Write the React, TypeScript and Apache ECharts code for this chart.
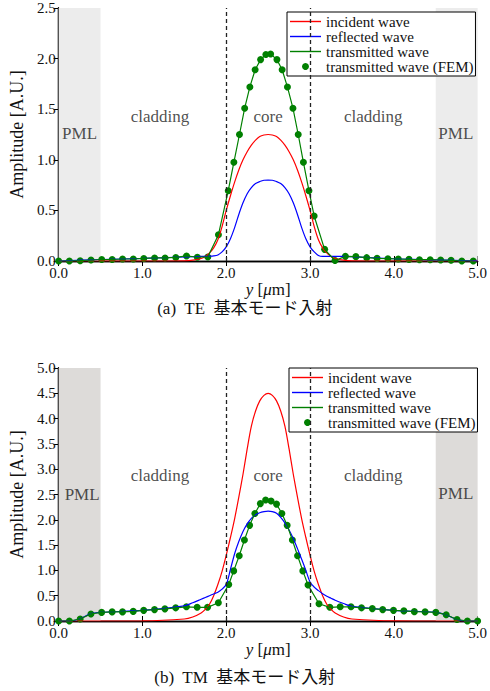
import React, { useEffect, useRef } from "react";
import * as echarts from "echarts";

const FONT = "Liberation Serif";
const CAPTION_FONT = "Liberation Serif, Noto Sans CJK JP";

// ---------- (a) TE ----------
const teCurveX = [0, 0.5, 1.0, 1.5, 1.6, 1.7, 1.75, 1.8, 1.85, 1.9, 1.95, 2.0, 2.05, 2.1, 2.15, 2.2, 2.25, 2.3, 2.35, 2.4, 2.45, 2.5, 2.55, 2.6, 2.65, 2.7, 2.75, 2.8, 2.85, 2.9, 2.95, 3.0, 3.05, 3.1, 3.15, 3.2, 3.25, 3.3, 3.4, 3.5, 4.0, 4.5, 5.0];
const teIncident = [0, 0, 0, 0.002, 0.008, 0.025, 0.045, 0.08, 0.13, 0.21, 0.34, 0.5, 0.645, 0.78, 0.9, 1.0, 1.08, 1.145, 1.195, 1.23, 1.245, 1.25, 1.245, 1.23, 1.195, 1.145, 1.08, 1.0, 0.9, 0.78, 0.645, 0.5, 0.34, 0.21, 0.13, 0.08, 0.045, 0.025, 0.008, 0.002, 0, 0, 0];
const teReflected = [0, 0.015, 0.025, 0.04, 0.042, 0.045, 0.046, 0.047, 0.05, 0.06, 0.09, 0.14, 0.22, 0.33, 0.46, 0.575, 0.665, 0.725, 0.765, 0.785, 0.798, 0.8, 0.798, 0.785, 0.765, 0.725, 0.665, 0.575, 0.46, 0.33, 0.22, 0.14, 0.09, 0.055, 0.045, 0.045, 0.045, 0.045, 0.046, 0.044, 0.022, 0.011, 0];
const teFemX = [0, 0.128, 0.257, 0.386, 0.514, 0.639, 0.763, 0.891, 1.016, 1.145, 1.27, 1.398, 1.526, 1.655, 1.78, 1.907, 2.024, 2.091, 2.158, 2.22, 2.282, 2.345, 2.41, 2.473, 2.53, 2.605, 2.667, 2.73, 2.796, 2.859, 2.921, 2.987, 3.049, 3.174, 3.298, 3.422, 3.547, 3.676, 3.8, 3.929, 4.053, 4.181, 4.306, 4.434, 4.559, 4.683, 4.811, 4.948];
const teFemY = [0, 0, 0.003, 0.01, 0.015, 0.015, 0.02, 0.02, 0.025, 0.03, 0.03, 0.035, 0.05, 0.037, 0.04, 0.26, 0.695, 0.975, 1.25, 1.51, 1.72, 1.89, 1.99, 2.04, 2.045, 1.99, 1.89, 1.72, 1.51, 1.25, 0.975, 0.695, 0.445, 0.115, 0.005, 0.046, 0.043, 0.033, 0.026, 0.023, 0.02, 0.016, 0.013, 0.013, 0.01, 0.007, 0, 0];
const teRegionLabels: [number, number, string][] = [
  [0.25, 1.26, "PML"],
  [1.21, 1.43, "cladding"],
  [2.5, 1.43, "core"],
  [3.755, 1.43, "cladding"],
  [4.74, 1.26, "PML"],
];

// ---------- (b) TM ----------
const tmCurveX = [0, 0.125, 0.25, 0.375, 0.5, 1.0, 1.5, 1.6, 1.7, 1.75, 1.8, 1.85, 1.9, 1.95, 2.0, 2.05, 2.1, 2.15, 2.2, 2.25, 2.3, 2.35, 2.4, 2.45, 2.5, 2.55, 2.6, 2.65, 2.7, 2.75, 2.8, 2.85, 2.9, 2.95, 3.0, 3.05, 3.1, 3.15, 3.2, 3.25, 3.3, 3.4, 3.5, 4.0, 4.5, 4.625, 4.75, 4.875, 5.0];
const tmIncident = [0, 0, 0, 0, 0, 0.002, 0.04, 0.08, 0.16, 0.23, 0.33, 0.5, 0.72, 0.98, 1.3, 1.65, 2.02, 2.45, 2.9, 3.4, 3.85, 4.15, 4.35, 4.46, 4.5, 4.46, 4.35, 4.15, 3.85, 3.4, 2.9, 2.45, 2.02, 1.65, 1.3, 0.98, 0.72, 0.5, 0.33, 0.23, 0.16, 0.08, 0.04, 0.002, 0, 0, 0, 0, 0];
const tmReflected = [0, 0, 0.04, 0.14, 0.17, 0.21, 0.3, 0.36, 0.43, 0.465, 0.5, 0.535, 0.57, 0.63, 0.72, 1.02, 1.33, 1.57, 1.77, 1.92, 2.03, 2.1, 2.14, 2.16, 2.17, 2.16, 2.13, 2.05, 1.94, 1.8, 1.63, 1.43, 1.22, 1.0, 0.77, 0.67, 0.6, 0.54, 0.49, 0.45, 0.41, 0.345, 0.29, 0.21, 0.17, 0.12, 0.03, 0, 0];
const tmFemX = [0, 0.128, 0.257, 0.385, 0.513, 0.638, 0.762, 0.89, 1.015, 1.144, 1.268, 1.397, 1.525, 1.653, 1.777, 1.906, 2.03, 2.089, 2.155, 2.217, 2.279, 2.342, 2.407, 2.47, 2.535, 2.6, 2.664, 2.727, 2.789, 2.851, 2.914, 2.976, 3.107, 3.236, 3.36, 3.489, 3.614, 3.743, 3.867, 3.996, 4.12, 4.245, 4.373, 4.501, 4.625, 4.754, 4.878, 5.0];
const tmFemY = [0, 0, 0.04, 0.14, 0.17, 0.18, 0.18, 0.19, 0.21, 0.225, 0.24, 0.26, 0.28, 0.27, 0.27, 0.36, 0.72, 0.99, 1.29, 1.6, 1.89, 2.125, 2.32, 2.39, 2.37, 2.31, 2.125, 1.89, 1.6, 1.29, 0.99, 0.71, 0.34, 0.27, 0.28, 0.28, 0.26, 0.245, 0.225, 0.21, 0.2, 0.185, 0.18, 0.17, 0.125, 0.03, 0, 0];
const tmRegionLabels: [number, number, string][] = [
  [0.28, 2.5, "PML"],
  [1.21, 2.88, "cladding"],
  [2.5, 2.88, "core"],
  [3.755, 2.88, "cladding"],
  [4.74, 2.52, "PML"],
];

const pmlRanges: [number, number][] = [[0, 0.5], [4.5, 5.0]];
const coreEdges = [2.0, 3.0];
const names = ["incident wave", "reflected wave", "transmitted wave", "transmitted wave (FEM)"];
const captions = ["(a)  TE  基本モード入射", "(b)  TM  基本モード入射"];

const zip = (xs: number[], ys: number[]) => xs.map((x, i) => [x, ys[i]]);

function axesFor(grid: number, yMax: number) {
  const common = {
    gridIndex: grid,
    splitLine: { show: false },
    axisLine: { show: true, lineStyle: { color: "#000", width: 1.3 } },
    axisTick: { show: true, inside: true, length: 5, lineStyle: { color: "#000", width: 1 } },
  };
  const x = [
    {
      ...common,
      type: "value",
      position: "bottom",
      min: 0,
      max: 5,
      interval: 1,
      axisLabel: { formatter: (v: number) => v.toFixed(1), fontFamily: FONT, fontSize: 15, color: "#111", margin: 4 },
      name: "{i|y} [{i|μ}m]",
      nameLocation: "middle",
      nameGap: 20,
      nameTextStyle: {
        fontFamily: FONT,
        fontSize: 17,
        color: "#111",
        rich: { i: { fontFamily: FONT, fontSize: 17, fontStyle: "italic", color: "#111" } },
      },
    },
    { ...common, type: "value", position: "top", min: 0, max: 5, interval: 1, axisLabel: { show: false } },
  ];
  const y = [
    {
      ...common,
      type: "value",
      position: "left",
      min: 0,
      max: yMax,
      interval: 0.5,
      axisLabel: { formatter: (v: number) => v.toFixed(1), fontFamily: FONT, fontSize: 15, color: "#111", margin: 3 },
      name: "Amplitude [A.U.]",
      nameLocation: "middle",
      nameGap: 29,
      nameRotate: 90,
      nameTextStyle: { fontFamily: FONT, fontSize: 18, color: "#111" },
    },
    { ...common, type: "value", position: "right", min: 0, max: yMax, interval: 0.5, axisLabel: { show: false } },
  ];
  return { x, y };
}

function seriesFor(
  xi: number,
  yi: number,
  curveX: number[],
  inc: number[],
  refl: number[],
  femX: number[],
  femY: number[],
  labels: [number, number, string][],
  pmlColor: string
) {
  return [
    {
      type: "scatter",
      name: "regions",
      xAxisIndex: xi,
      yAxisIndex: yi,
      z: 1,
      silent: true,
      symbolSize: 1,
      itemStyle: { color: "rgba(0,0,0,0)" },
      data: labels.map((l) => [l[0], l[1], l[2]]),
      label: {
        show: true,
        position: "inside",
        formatter: (p: any) => p.value[2],
        fontFamily: FONT,
        fontSize: 17,
        color: "#222",
      },
      markArea: {
        silent: true,
        itemStyle: { color: pmlColor },
        data: pmlRanges.map((r) => [{ xAxis: r[0] }, { xAxis: r[1] }]),
      },
      markLine: {
        silent: true,
        symbol: ["none", "none"],
        label: { show: false },
        lineStyle: { color: "#222", width: 1.3, type: [4, 3] },
        data: coreEdges.map((e) => ({ xAxis: e })),
      },
    },
    {
      type: "line",
      name: names[0],
      xAxisIndex: xi,
      yAxisIndex: yi,
      symbol: "none",
      smooth: 0.3,
      lineStyle: { color: "#ff0000", width: 1.2 },
      itemStyle: { color: "#ff0000" },
      data: zip(curveX, inc),
    },
    {
      type: "line",
      name: names[1],
      xAxisIndex: xi,
      yAxisIndex: yi,
      symbol: "none",
      smooth: 0.3,
      lineStyle: { color: "#0000ff", width: 1.2 },
      itemStyle: { color: "#0000ff" },
      data: zip(curveX, refl),
    },
    {
      type: "line",
      name: names[2],
      xAxisIndex: xi,
      yAxisIndex: yi,
      symbol: "none",
      lineStyle: { color: "#008000", width: 1.2 },
      itemStyle: { color: "#008000" },
      data: zip(femX, femY),
    },
    {
      type: "scatter",
      name: names[3],
      xAxisIndex: xi,
      yAxisIndex: yi,
      symbol: "circle",
      symbolSize: 7,
      itemStyle: { color: "#008000", opacity: 1 },
      data: zip(femX, femY),
    },
  ];
}

const LINE_ICON = "path://M0 0 H31 V1.4 H0 Z";

function legendAt(left: number, top: number) {
  return {
    orient: "vertical",
    left,
    top,
    data: [
      { name: names[0], icon: LINE_ICON, itemStyle: { color: "#ff0000" } },
      { name: names[1], icon: LINE_ICON, itemStyle: { color: "#0000ff" } },
      { name: names[2], icon: LINE_ICON, itemStyle: { color: "#008000" } },
      { name: names[3], icon: "circle" },
    ],
    itemWidth: 31,
    itemHeight: 7,
    itemGap: 0,
    padding: [2, 2, 2, 3],
    backgroundColor: "#fff",
    borderColor: "#000",
    borderWidth: 1,
    borderRadius: 0,
    selectedMode: false,
    textStyle: { fontFamily: FONT, fontSize: 15, lineHeight: 12.6, color: "#111" },
  };
}

function caption(i: number, top: number) {
  return {
    type: "text",
    left: "center",
    top,
    style: { text: captions[i], fontFamily: CAPTION_FONT, fontSize: 17, fill: "#111" },
  };
}

export default function App() {
  const ref = useRef<HTMLDivElement>(null);
  useEffect(() => {
    if (!ref.current) return;
    const chart = echarts.init(ref.current, undefined, { renderer: "svg" });
    const a = axesFor(0, 2.5);
    const b = axesFor(1, 5.0);
    chart.setOption({
      animation: false,
      backgroundColor: "#fff",
      textStyle: { fontFamily: FONT },
      grid: [
        { left: 51, top: 8, width: 428, height: 253 },
        { left: 51, top: 368, width: 428, height: 253 },
      ],
      xAxis: [...a.x, ...b.x],
      yAxis: [...a.y, ...b.y],
      legend: [legendAt(287, 12), legendAt(289, 368)],
      series: [
        ...seriesFor(0, 0, teCurveX, teIncident, teReflected, teFemX, teFemY, teRegionLabels, "#ececec"),
        ...seriesFor(2, 2, tmCurveX, tmIncident, tmReflected, tmFemX, tmFemY, tmRegionLabels, "#dddbd9"),
      ],
      graphic: [caption(0, 300), caption(1, 669)],
    });
    return () => chart.dispose();
  }, []);
  return <div ref={ref} style={{ position: "fixed", left: 0, top: 0, width: 490, height: 691 }} />;
}
